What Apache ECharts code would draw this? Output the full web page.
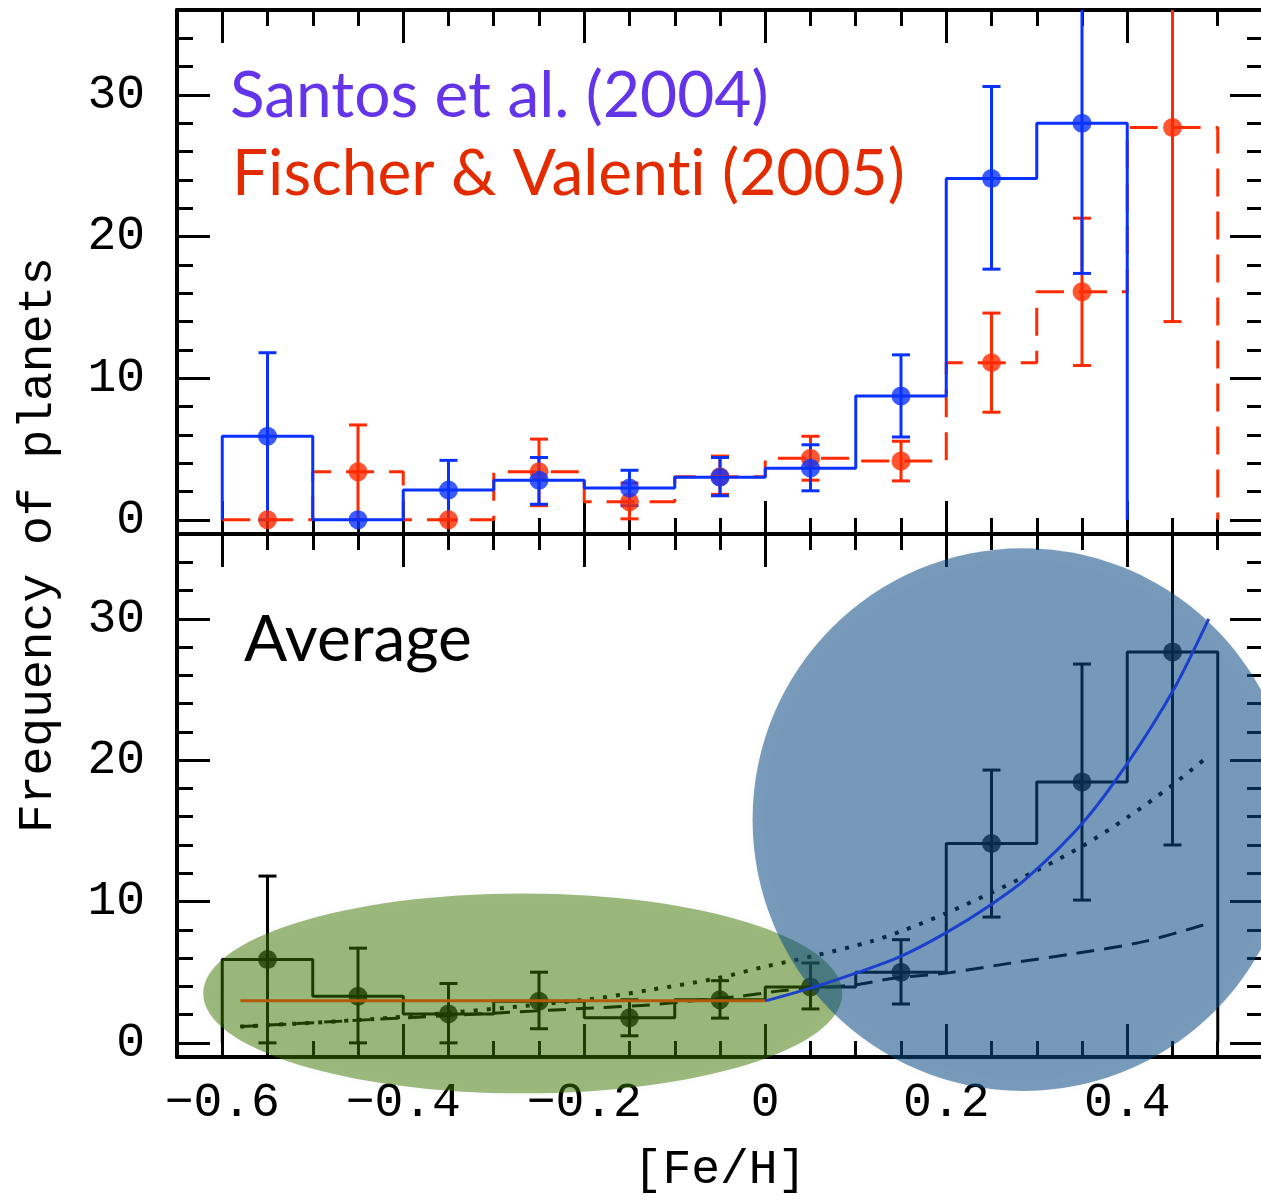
<!DOCTYPE html>
<html><head><meta charset="utf-8">
<script src="https://cdn.jsdelivr.net/npm/echarts@6/dist/echarts.min.js"></script>
<style>html,body{margin:0;padding:0;background:#fff;overflow:hidden}#c{width:1261px;height:1202px}</style>
</head><body><div id="c"></div><script>
// ---------- data ----------
const binEdges = [-0.6,-0.5,-0.4,-0.3,-0.2,-0.1,0,0.1,0.2,0.3,0.4,0.5];
const binCenters = [-0.55,-0.45,-0.35,-0.25,-0.15,-0.05,0.05,0.15,0.25,0.35,0.45];
// Santos et al. (2004): bins -0.6 .. 0.4
const santosCounts = [5.9,0,2.1,2.8,2.25,3.0,3.65,8.75,24.1,28.0];
const santosErrLow = [0,null,0,1.1,1.0,1.7,2.05,5.85,17.7,17.4];
const santosErrHigh = [11.8,null,4.2,4.4,3.5,4.4,5.3,11.65,30.6,40];
// Fischer & Valenti (2005): bins -0.6 .. 0.5
const fischerCounts = [0,3.4,0,3.4,1.27,3.05,4.35,4.15,11.1,16.1,27.7];
const fischerErrLow = [null,0,null,1.0,0.07,1.8,2.8,2.75,7.6,10.9,14.0];
const fischerErrHigh = [null,6.7,null,5.7,2.6,4.5,5.9,5.55,14.6,21.3,40];
// Average
const avgCounts = [5.9,3.3,2.05,2.95,1.77,3.05,3.95,5.0,14.1,18.45,27.65];
const avgErrLow = [0,0,0,1.0,0.5,1.75,2.4,2.75,8.9,10.1,14.0];
const avgErrHigh = [11.8,6.7,4.2,5.0,3.05,4.4,5.65,7.3,19.3,26.8,40];
// fit curves
const flatFitX = [-0.58, 0];
const flatFitY = [2.98, 2.98];
const powerFitX = [0,0.05,0.1,0.149,0.2,0.249,0.289,0.35,0.399,0.451,0.49];
const powerFitY = [2.97,3.87,4.93,6.1,7.8,9.76,11.65,15.5,19.66,24.97,30.0];
const dottedFitX = [-0.58,-0.42,-0.2,-0.127,-0.053,0,0.057,0.116,0.149,0.2,0.249,0.3,0.35,0.399,0.447,0.49];
const dottedFitY = [1.15,1.75,3.04,3.75,4.57,5.4,6.2,7.16,7.87,9.17,10.6,12.2,13.9,15.9,18.1,20.3];
const dashedFitX = [-0.58,-0.42,-0.3,-0.19,-0.127,-0.072,-0.031,0.02,0.098,0.142,0.204,0.271,0.344,0.418,0.49];
const dashedFitY = [1.15,1.7,2.1,2.47,2.69,3.04,3.27,3.7,4.1,4.57,4.97,5.64,6.34,7.16,8.46];
// ticks
const xMajorTicks = [-0.6,-0.4,-0.2,0,0.2,0.4];
const xMinorTicks = [-0.65,-0.6,-0.55,-0.5,-0.45,-0.4,-0.35,-0.3,-0.25,-0.2,-0.15,-0.1,-0.05,0,0.05,0.1,0.15,0.2,0.25,0.3,0.35,0.4,0.45,0.5];
const yMajorTicks = [0,10,20,30];
const yMinorTicks = [0,2,4,6,8,10,12,14,16,18,20,22,24,26,28,30,32,34];
// highlight regions in data units: [centerX, centerY, radiusX, radiusY]
const highlightRegions = [[-0.268,3.5,0.353,7.07],[0.285,15.8,0.299,19.2]];

// ---------- helpers ----------
function stepPoints(edges, counts){
  const pts=[[edges[0],0]];
  counts.forEach((c,i)=>{pts.push([edges[i],c]);pts.push([edges[i+1],c]);});
  pts.push([edges[counts.length],0]);
  return pts;
}
function points(counts){ return counts.map((c,i)=>[binCenters[i],c]); }
function errs(lo,hi){ const out=[]; lo.forEach((l,i)=>{ if(l!==null) out.push([binCenters[i],l,hi[i]]); }); return out; }
function zip(xs,ys){ return xs.map((x,i)=>[x,ys[i]]); }
function errRenderer(color){
  return function(params, api){
    const x=api.value(0), lo=api.value(1), hi=api.value(2);
    const a=api.coord([x,lo]), b=api.coord([x,hi]); const w=9;
    const st={stroke:color,lineWidth:3};
    return {type:'group',children:[
      {type:'line',shape:{x1:a[0],y1:a[1],x2:b[0],y2:b[1]},style:st},
      {type:'line',shape:{x1:a[0]-w,y1:a[1],x2:a[0]+w,y2:a[1]},style:st},
      {type:'line',shape:{x1:b[0]-w,y1:b[1],x2:b[0]+w,y2:b[1]},style:st}
    ]};
  };
}
const fmt = v => (v<0 ? '\u2212'+Math.abs(v) : String(v));
const MONO = 'Liberation Mono';
const BLUE = '#0a32ff', RED = '#ff2a00';
const X_MIN = -0.65, X_MAX = 0.55;

function xAx(grid, pos, major, labels){
  return {type:'value', gridIndex:grid, position:pos, min:X_MIN, max:X_MAX,
    axisLine:{show:major,onZero:false,lineStyle:{color:'#000',width:4}},
    axisTick:{show:true,inside:true,length:major?33:16,customValues:major?xMajorTicks:xMinorTicks,lineStyle:{color:'#000',width:3}},
    axisLabel:{show:!!labels,customValues:xMajorTicks,formatter:fmt,margin:22,color:'#000',fontFamily:MONO,fontSize:48},
    splitLine:{show:false}};
}
function yAx(grid, pos, major, labels){
  return {type:'value', gridIndex:grid, position:pos, min:-1, max:36,
    axisLine:{show:major && pos==='left',onZero:false,lineStyle:{color:'#000',width:4}},
    axisTick:{show:true,inside:true,length:major?33:16,customValues:major?yMajorTicks:yMinorTicks,lineStyle:{color:'#000',width:3}},
    axisLabel:{show:!!labels,customValues:yMajorTicks,formatter:fmt,margin:32,color:'#000',fontFamily:MONO,fontSize:48},
    splitLine:{show:false}};
}
const xAxes=[], yAxes=[];
[0,1].forEach(g=>{
  xAxes.push(xAx(g,'bottom',true,g===1), xAx(g,'bottom',false), xAx(g,'top',true), xAx(g,'top',false));
  yAxes.push(yAx(g,'left',true,true), yAx(g,'left',false), yAx(g,'right',true), yAx(g,'right',false));
});

const chart = echarts.init(document.getElementById('c'), null, {renderer:'canvas'});
chart.setOption({
  animation:false,
  backgroundColor:'#fff',
  grid:[{left:177,top:10,width:1086,height:524,outerBoundsMode:'none',containLabel:false},
        {left:177,top:534,width:1086,height:523,outerBoundsMode:'none',containLabel:false}],
  xAxis:xAxes, yAxis:yAxes,
  graphic:[
    {type:'text',x:230,y:96,style:{text:'Santos et al. (2004)',fill:'#6435e8',font:'64px Lato',textAlign:'left',textVerticalAlign:'middle',align:'left',verticalAlign:'middle'}},
    {type:'text',x:232,y:174,style:{text:'Fischer & Valent\u200Ci (2005)',fill:'#e32b00',font:'64px Lato',textAlign:'left',textVerticalAlign:'middle',align:'left',verticalAlign:'middle'}},
    {type:'text',x:244,y:640,style:{text:'Average',fill:'#000',font:'64px Lato',textAlign:'left',textVerticalAlign:'middle',align:'left',verticalAlign:'middle'}},
    {type:'text',x:38,y:545,rotation:Math.PI/2,style:{text:'Frequency of planets',fill:'#000',font:'48px "Liberation Mono"',textAlign:'center',textVerticalAlign:'middle',align:'center',verticalAlign:'middle'}},
    {type:'text',x:720,y:1170,style:{text:'[Fe/H]',fill:'#000',font:'48px "Liberation Mono"',textAlign:'center',textVerticalAlign:'middle',align:'center',verticalAlign:'middle'}}
  ],
  series:[
    // top panel - Fischer & Valenti
    {type:'line',xAxisIndex:0,yAxisIndex:0,data:stepPoints(binEdges,fischerCounts),showSymbol:false,lineStyle:{color:RED,width:3,type:[28,15]}},
    {type:'custom',xAxisIndex:0,yAxisIndex:0,clip:true,data:errs(fischerErrLow,fischerErrHigh),renderItem:errRenderer(RED)},
    {type:'scatter',xAxisIndex:0,yAxisIndex:0,data:points(fischerCounts),symbolSize:19,itemStyle:{color:RED}},
    // top panel - Santos
    {type:'line',xAxisIndex:0,yAxisIndex:0,data:stepPoints(binEdges,santosCounts),showSymbol:false,lineStyle:{color:BLUE,width:3}},
    {type:'custom',xAxisIndex:0,yAxisIndex:0,clip:true,data:errs(santosErrLow,santosErrHigh),renderItem:errRenderer(BLUE)},
    {type:'scatter',xAxisIndex:0,yAxisIndex:0,data:points(santosCounts),symbolSize:19,itemStyle:{color:BLUE}},
    // bottom panel - average
    {type:'line',xAxisIndex:4,yAxisIndex:4,data:stepPoints(binEdges,avgCounts),showSymbol:false,lineStyle:{color:'#000',width:3}},
    {type:'custom',xAxisIndex:4,yAxisIndex:4,clip:true,data:errs(avgErrLow,avgErrHigh),renderItem:errRenderer('#000')},
    {type:'scatter',xAxisIndex:4,yAxisIndex:4,data:points(avgCounts),symbolSize:19,itemStyle:{color:'#000'}},
    {type:'line',xAxisIndex:4,yAxisIndex:4,data:zip(dottedFitX,dottedFitY),smooth:0.3,showSymbol:false,lineStyle:{color:'#000',width:4,type:[4,9],cap:'butt'}},
    {type:'line',xAxisIndex:4,yAxisIndex:4,data:zip(dashedFitX,dashedFitY),smooth:0.3,showSymbol:false,lineStyle:{color:'#000',width:3,type:[18,10]}},
    // highlight overlays
    {type:'custom',xAxisIndex:4,yAxisIndex:4,clip:false,z:5,data:highlightRegions,
      renderItem:function(params,api){
        const c=api.coord([api.value(0),api.value(1)]);
        const s=api.size([api.value(2),api.value(3)]);
        const fills=['rgba(62,120,0,0.5)','rgba(13,76,136,0.55)'];
        return {type:'ellipse',shape:{cx:c[0],cy:c[1],rx:s[0],ry:s[1]},
          style:{fill:fills[params.dataIndex],shadowBlur:10,shadowColor:'rgba(0,0,0,0.06)'}};
      }},
    {type:'line',xAxisIndex:4,yAxisIndex:4,z:6,data:zip(flatFitX,flatFitY),showSymbol:false,lineStyle:{color:'#b35a05',width:3}},
    {type:'line',xAxisIndex:4,yAxisIndex:4,z:6,data:zip(powerFitX,powerFitY),smooth:0.3,showSymbol:false,lineStyle:{color:'#1a40cc',width:3}}
  ]
});
</script></body></html>
